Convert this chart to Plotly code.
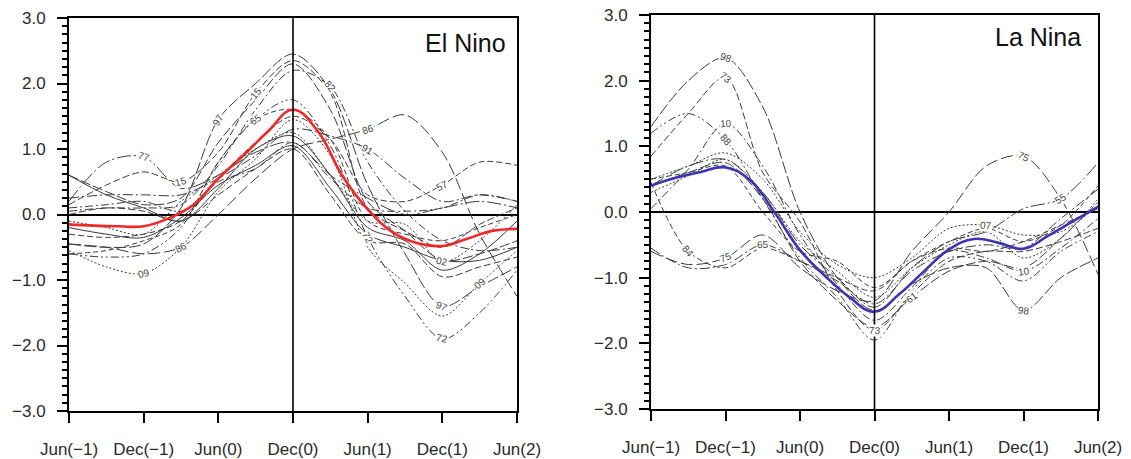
import math
import plotly.graph_objects as go

# ---------------- data ----------------
months3 = [0, 3, 6, 9, 12, 15, 18, 21, 24, 27, 30, 33, 36]
months2 = [0, 2, 4, 6, 8, 10, 12, 14, 16, 18, 20, 22, 24, 26, 28, 30, 32, 34, 36]
x_tick_vals = [0, 6, 12, 18, 24, 30, 36]
x_tick_text = ["Jun(\u22121)", "Dec(\u22121)", "Jun(0)", "Dec(0)", "Jun(1)", "Dec(1)", "Jun(2)"]
y_tick_vals = [-3, -2, -1, 0, 1, 2, 3]
y_tick_text = ["\u22123.0", "\u22122.0", "\u22121.0", "0.0", "1.0", "2.0", "3.0"]

# composites (every 2 months)
elnino_composite = [-0.15, -0.17, -0.18, -0.18, -0.06, 0.15, 0.55, 0.90, 1.27, 1.60,
                    1.27, 0.58, 0.08, -0.27, -0.44, -0.48, -0.37, -0.25, -0.22]
lanina_composite = [0.40, 0.52, 0.61, 0.68, 0.48, -0.02, -0.58, -0.97, -1.30, -1.52,
                    -1.25, -0.90, -0.57, -0.41, -0.47, -0.56, -0.36, -0.14, 0.08]

# El Nino events (every 3 months)
en_97 = [-0.45, -0.5, -0.45, 0.1, 1.45, 2.0, 2.45, 1.9, 0.45, -0.6, -1.4, -1.1, -0.8]
en_15 = [0.15, 0.45, 0.65, 0.5, 0.95, 1.85, 2.35, 1.85, 0.1, -0.25, -0.5, -0.15, 0.1]
en_82 = [0.05, 0.1, 0.1, 0.15, 0.75, 1.6, 2.2, 1.95, 0.8, 0.05, -0.4, -0.55, -0.5]
en_72 = [-0.6, -0.65, -0.6, -0.2, 0.8, 1.45, 1.75, 1.05, -0.35, -1.25, -1.9, -1.5, -0.85]
en_09 = [-0.55, -0.8, -0.9, -0.5, 0.35, 0.85, 1.45, 0.9, -0.5, -1.05, -1.55, -1.05, -0.55]
en_86 = [-0.45, -0.5, -0.6, -0.5, 0.0, 0.55, 1.0, 1.15, 1.3, 1.52, 0.95, -0.3, -1.25]
en_57 = [-0.3, -0.35, -0.3, -0.1, 0.55, 1.1, 1.5, 1.15, 0.3, 0.2, 0.45, 0.8, 0.75]
en_91 = [0.25, 0.3, 0.3, 0.3, 0.55, 0.9, 1.3, 1.2, 1.0, 0.55, 0.2, 0.3, 0.2]
en_77 = [0.2, 0.8, 0.88, 0.4, 0.6, 0.95, 1.1, 0.6, 0.25, 0.0, 0.1, 0.2, 0.1]
en_65 = [-0.6, -0.55, -0.4, -0.15, 0.8, 1.45, 1.6, 1.15, -0.1, -0.3, -0.4, -0.2, 0.0]
en_02 = [-0.1, -0.2, -0.3, 0.2, 0.6, 1.0, 1.25, 0.6, -0.1, -0.15, -0.72, -0.4, 0.15]
en_87 = [0.6, 0.35, 0.15, 0.25, 1.1, 1.75, 2.3, 1.6, 0.2, -0.25, -0.7, -0.6, -0.4]
en_63 = [0.6, 0.3, 0.1, -0.1, 0.4, 1.0, 1.2, 0.6, -0.2, -0.4, -0.85, -0.6, -0.1]
en_94 = [-0.2, -0.3, -0.35, -0.05, 0.45, 0.75, 1.05, 0.4, -0.3, -0.5, -0.7, -0.7, -0.5]
en_06 = [0.0, 0.1, 0.05, -0.1, 0.3, 0.7, 1.0, 0.3, -0.4, -0.45, -0.95, -0.8, -0.65]
en_04 = [0.1, 0.15, 0.2, 0.05, 0.5, 0.7, 1.1, 0.55, 0.1, 0.05, 0.1, 0.3, 0.2]

# La Nina events (every 3 months)
ln_98 = [1.3, 2.0, 2.35, 1.6, 0.0, -1.0, -1.5, -1.1, -0.85, -0.85, -1.5, -1.0, -0.7]
ln_73 = [0.85, 1.5, 2.05, 0.6, -0.15, -1.2, -1.8, -1.25, -0.75, -0.6, -0.6, -0.45, -0.25]
ln_10 = [0.05, 0.65, 1.35, 0.7, -0.35, -1.1, -1.65, -1.15, -0.6, -0.7, -0.9, -0.55, -0.1]
ln_88 = [1.2, 1.5, 1.1, 0.2, -0.7, -1.3, -1.95, -1.2, -0.7, -0.75, -1.05, -0.6, -0.3]
ln_07 = [0.5, 0.7, 0.9, 0.5, -0.3, -0.8, -1.0, -0.7, -0.25, -0.2, -0.35, -0.3, 0.1]
ln_75 = [-0.6, -0.8, -0.7, -0.35, -0.85, -1.2, -1.35, -0.6, 0.0, 0.7, 0.85, 0.2, -0.95]
ln_84 = [0.45, -0.6, -0.85, -0.55, -0.75, -1.0, -1.2, -0.75, -0.55, -0.6, -0.45, -0.2, 0.05]
ln_65 = [-0.55, -0.85, -0.8, -0.5, -0.75, -1.05, -1.4, -0.9, -0.6, -0.5, -0.55, -0.1, 0.35]
ln_55 = [0.4, 0.7, 0.8, 0.3, -0.5, -1.0, -1.45, -0.85, -0.45, -0.3, 0.05, 0.2, 0.75]
ln_70 = [0.5, 0.6, 0.7, 0.0, -0.6, -0.75, -1.15, -0.75, -0.45, -0.25, -0.45, -0.2, 0.4]
ln_20 = [0.3, 0.55, 0.8, 0.3, -0.45, -0.9, -1.3, -0.85, -0.5, -0.3, -0.7, -0.4, 0.2]
ln_61 = [0.4, 0.6, 0.75, 0.2, -0.75, -1.35, -1.75, -1.3, -0.9, -0.75, -0.85, -0.4, 0.15]

elnino_events = {"97": en_97, "15": en_15, "82": en_82, "72": en_72, "09": en_09,
                 "86": en_86, "57": en_57, "91": en_91, "77": en_77, "65": en_65,
                 "02": en_02, "87": en_87, "63": en_63, "94": en_94, "06": en_06, "04": en_04}
lanina_events = {"98": ln_98, "73": ln_73, "10": ln_10, "88": ln_88, "07": ln_07,
                 "75": ln_75, "84": ln_84, "65": ln_65, "55": ln_55, "70": ln_70,
                 "20": ln_20, "61": ln_61}

# ---------------- styles ----------------
dash_cycle = ["12px,3px", "7px,3px", "8px,3px,2px,3px", "8px,3px,2px,3px,2px,3px",
              "2px,2px", "12px,4px", "6px,3px", "10px,3px,2px,3px", "14px,3px,2px,3px",
              "5px,3px", "2px,2px", "10px,3px", "solid", "solid", "7px,3px",
              "8px,3px,2px,3px"]
elnino_label_idx = {"97": [4, 10], "15": [3, 5], "82": [7], "72": [8, 10], "09": [2, 11],
                    "86": [3, 8], "57": [10], "91": [8], "77": [2], "65": [5],
                    "02": [10], "87": [], "63": [], "94": [], "06": [], "04": []}
lanina_label_idx = {"98": [2, 10], "73": [2, 6], "10": [2, 10], "88": [2], "07": [9],
                    "75": [2, 10], "84": [1], "65": [3], "55": [11], "70": [],
                    "20": [], "61": [7]}

GRAY = "#3a3a3a"
FONT = "Liberation Sans, Arial, Helvetica, sans-serif"
PX_PER_MONTH = 12.44
PX_PER_UNIT = 65.6

fig = go.Figure()
annotations = []


def add_panel(events, label_idx, composite, comp_color, xa, ya):
    xref = "x" if xa == "x" else "x2"
    yref = "y" if ya == "y" else "y2"
    for k, (name, vals) in enumerate(events.items()):
        fig.add_trace(go.Scatter(
            x=months3, y=vals, mode="lines", xaxis=xa, yaxis=ya,
            line=dict(color=GRAY, width=1.0, dash=dash_cycle[k % len(dash_cycle)],
                      shape="spline", smoothing=0.9),
            hoverinfo="skip", showlegend=False))
        for i in label_idx.get(name, []):
            i0, i1 = max(i - 1, 0), min(i + 1, len(vals) - 1)
            slope = (vals[i1] - vals[i0]) * PX_PER_UNIT / ((months3[i1] - months3[i0]) * PX_PER_MONTH)
            ang = -math.degrees(math.atan(slope))
            annotations.append(dict(
                x=months3[i], y=vals[i], xref=xref, yref=yref, text=name,
                showarrow=False, textangle=ang, bgcolor="white", borderpad=0,
                font=dict(family=FONT, size=10, color="#444")))
    fig.add_trace(go.Scatter(
        x=months2, y=composite, mode="lines", xaxis=xa, yaxis=ya,
        line=dict(color=comp_color, width=2.6, shape="spline", smoothing=1.2),
        hoverinfo="skip", showlegend=False))


add_panel(elnino_events, elnino_label_idx, elnino_composite, "#ee2a2a", "x", "y")
add_panel(lanina_events, lanina_label_idx, lanina_composite, "#3b35b0", "x2", "y2")

axis_common = dict(showline=True, mirror=True, linecolor="black", linewidth=2,
                   showgrid=False, automargin=False, ticks="outside", tickcolor="black",
                   tickwidth=2, ticklen=10,
                   tickfont=dict(family=FONT, size=17, color="#2a2a2a"))

xcommon = dict(axis_common, range=[0, 36], tickvals=x_tick_vals, ticktext=x_tick_text,
               zeroline=False, ticklabelstandoff=12)
ycommon = dict(axis_common, range=[-3, 3], tickvals=y_tick_vals, ticktext=y_tick_text,
               zeroline=True, zerolinecolor="black", zerolinewidth=1.6,
               ticklabelstandoff=8,
               minor=dict(ticks="outside", ticklen=5, tickwidth=1.5, tickcolor="black",
                          tick0=0, dtick=0.125, showgrid=False))

fig.update_layout(
    width=1131, height=459, margin=dict(l=0, r=0, t=0, b=0, autoexpand=False),
    paper_bgcolor="white", plot_bgcolor="white", showlegend=False,
    xaxis=dict(xcommon, domain=[69 / 1131, 517 / 1131], anchor="y"),
    yaxis=dict(ycommon, domain=[1 - 411 / 459, 1 - 18 / 459], anchor="x"),
    xaxis2=dict(xcommon, domain=[651 / 1131, 1098 / 1131], anchor="y2"),
    yaxis2=dict(ycommon, domain=[1 - 409 / 459, 1 - 15 / 459], anchor="x2"),
)

annotations.append(dict(x=0.98, y=0.937, xref="x domain", yref="y domain", text="El Nino",
                        showarrow=False, xanchor="right", yanchor="middle",
                        font=dict(family=FONT, size=25, color="#111")))
annotations.append(dict(x=0.966, y=0.944, xref="x2 domain", yref="y2 domain", text="La Nina",
                        showarrow=False, xanchor="right", yanchor="middle",
                        font=dict(family=FONT, size=25, color="#111")))
fig.update_layout(annotations=annotations)

for xr, yr in (("x", "y"), ("x2", "y2")):
    fig.add_shape(type="line", x0=18, x1=18, y0=0, y1=1, xref=xr, yref=yr + " domain",
                  line=dict(color="black", width=1.6), layer="above")

fig.write_html("out.html")
